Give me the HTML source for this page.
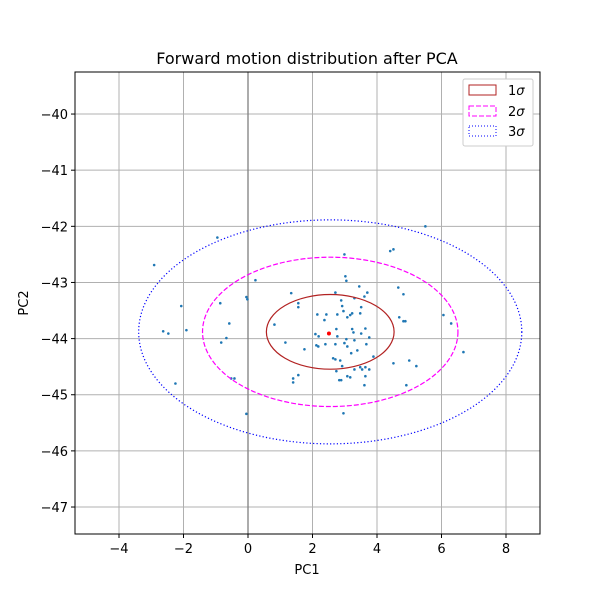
<!DOCTYPE html>
<html><head><meta charset="utf-8"><style>
body{margin:0;background:#fff;}
svg text{font-family:"DejaVu Sans","Liberation Sans",sans-serif;}
</style></head><body>
<svg id="chart" width="600" height="600" xmlns="http://www.w3.org/2000/svg">
<rect width="600" height="600" fill="#fff"/>
<text x="307" y="64" font-size="16" text-anchor="middle">Forward motion distribution after PCA</text>
<text x="307" y="574" font-size="13" text-anchor="middle">PC1</text>
<text x="28" y="303" font-size="13" text-anchor="middle" transform="rotate(-90 28 303)">PC2</text>
<g id="grid"></g><g id="marks"></g><g id="ticks"></g>
<rect x="75" y="72" width="465" height="462" fill="none" stroke="#000" stroke-width="1"/>
<g>
<rect x="463" y="79" width="70" height="67" fill="#fff" stroke="#ccc" rx="2"/>
<rect x="469" y="85" width="27" height="10" fill="none" stroke="#b22222"/>
<text x="508" y="95" font-size="13">1<tspan font-style="italic">σ</tspan></text>
<rect x="469" y="106" width="27" height="10" fill="none" stroke="#ff00ff" stroke-dasharray="5,2"/>
<text x="508" y="116" font-size="13">2<tspan font-style="italic">σ</tspan></text>
<rect x="469" y="126" width="27" height="10" fill="none" stroke="#0000ff" stroke-dasharray="1,2"/>
<text x="508" y="136" font-size="13">3<tspan font-style="italic">σ</tspan></text>
</g>
</svg>
<script>
const xs=[-0.95,-2.91,0.23,1.34,-0.05,-0.02,1.56,1.56,-0.86,-2.07,2.15,2.37,-0.58,0.82,-2.63,-2.47,-1.91,2.09,2.19,-0.67,-0.83,1.16,2.12,2.18,2.40,1.75,1.56,1.40,1.40,-0.52,-0.42,-2.25,-0.05,5.50,4.41,4.51,2.99,3.02,3.05,3.45,4.66,2.71,3.70,3.61,4.82,3.30,2.89,2.92,3.51,2.96,3.23,3.48,2.43,2.77,3.17,3.08,4.69,4.82,4.88,6.06,6.30,2.74,3.23,3.64,3.27,3.51,2.77,3.76,3.05,3.30,2.71,2.99,3.08,3.67,3.39,3.20,3.89,2.64,2.71,2.86,2.92,3.48,3.54,3.64,3.76,3.30,2.74,4.51,5.00,5.22,6.68,3.08,3.17,3.64,2.83,2.89,3.61,4.91,2.96];
const ys=[-42.20,-42.69,-42.96,-43.19,-43.26,-43.30,-43.37,-43.44,-43.37,-43.42,-43.57,-43.67,-43.73,-43.75,-43.87,-43.91,-43.85,-43.92,-43.96,-43.99,-44.07,-44.07,-44.12,-44.14,-44.10,-44.19,-44.65,-44.71,-44.78,-44.71,-44.71,-44.80,-45.34,-42.00,-42.44,-42.41,-42.50,-42.89,-42.97,-43.07,-43.09,-43.18,-43.18,-43.25,-43.21,-43.28,-43.32,-43.42,-43.44,-43.51,-43.55,-43.55,-43.57,-43.57,-43.58,-43.62,-43.62,-43.69,-43.69,-43.58,-43.73,-43.83,-43.83,-43.82,-43.89,-43.91,-43.96,-43.98,-44.01,-44.03,-44.10,-44.08,-44.14,-44.10,-44.21,-44.26,-44.32,-44.35,-44.37,-44.39,-44.49,-44.51,-44.55,-44.51,-44.55,-44.55,-44.58,-44.44,-44.39,-44.49,-44.24,-44.67,-44.69,-44.67,-44.74,-44.74,-44.83,-44.83,-45.33];
const meanPt=[2.51,-43.91];
const ellCenter=[2.55,-43.88];
const sigmaAxes=[1.98,0.665];
const sigmaLevels=[1,2,3];
const xTicks=[-4,-2,0,2,4,6,8];
const yTicks=[-40,-41,-42,-43,-44,-45,-46,-47];
const X=v=>248+(v)*32.25;
const Y=v=>338.6-(v+44)*56.14;
const NS="http://www.w3.org/2000/svg";
function mk(p,t,a){const e=document.createElementNS(NS,t);for(const k in a)e.setAttribute(k,a[k]);p.appendChild(e);return e;}
const grid=document.getElementById('grid'),marks=document.getElementById('marks'),ticks=document.getElementById('ticks');
xTicks.forEach(t=>{const x=X(t);
const g=mk(grid,'line',{x1:x,x2:x,y1:72,y2:534,stroke:'#b0b0b0','stroke-width':1});


mk(ticks,'line',{x1:x,x2:x,y1:534,y2:538,stroke:'#000'});
const tx=mk(ticks,'text',{x:x,y:553,'font-size':13,'text-anchor':'middle'});tx.textContent=String(t).replace('-','−');

});
yTicks.forEach(t=>{const y=Y(t);
const g=mk(grid,'line',{x1:75,x2:540,y1:y,y2:y,stroke:'#b0b0b0','stroke-width':1});


mk(ticks,'line',{x1:71,x2:75,y1:y,y2:y,stroke:'#000'});
const tx=mk(ticks,'text',{x:68,y:y+5,'font-size':13,'text-anchor':'end'});tx.textContent=String(t).replace('-','−');

});
const zl=mk(grid,'line',{x1:X(0),x2:X(0),y1:72,y2:534,stroke:'#808080','stroke-width':1.3});


xs.forEach((v,i)=>{const c=mk(marks,'circle',{cx:X(v),cy:Y(ys[i]),r:1.3,fill:'#1f77b4'});

});
const cols=['#b22222','#ff00ff','#0000ff'],dash=['none','5,2','1.2,2.2'];
sigmaLevels.forEach((s,i)=>{const e=mk(marks,'ellipse',{cx:X(ellCenter[0]),cy:Y(ellCenter[1]),rx:sigmaAxes[0]*s*32.25,ry:sigmaAxes[1]*s*56.14,fill:'none',stroke:cols[i],'stroke-width':1.2,'stroke-dasharray':dash[i]});

});
const m=mk(marks,'circle',{cx:X(meanPt[0]),cy:Y(meanPt[1]),r:2,fill:'#ff0000'});


</script>
</body></html>
